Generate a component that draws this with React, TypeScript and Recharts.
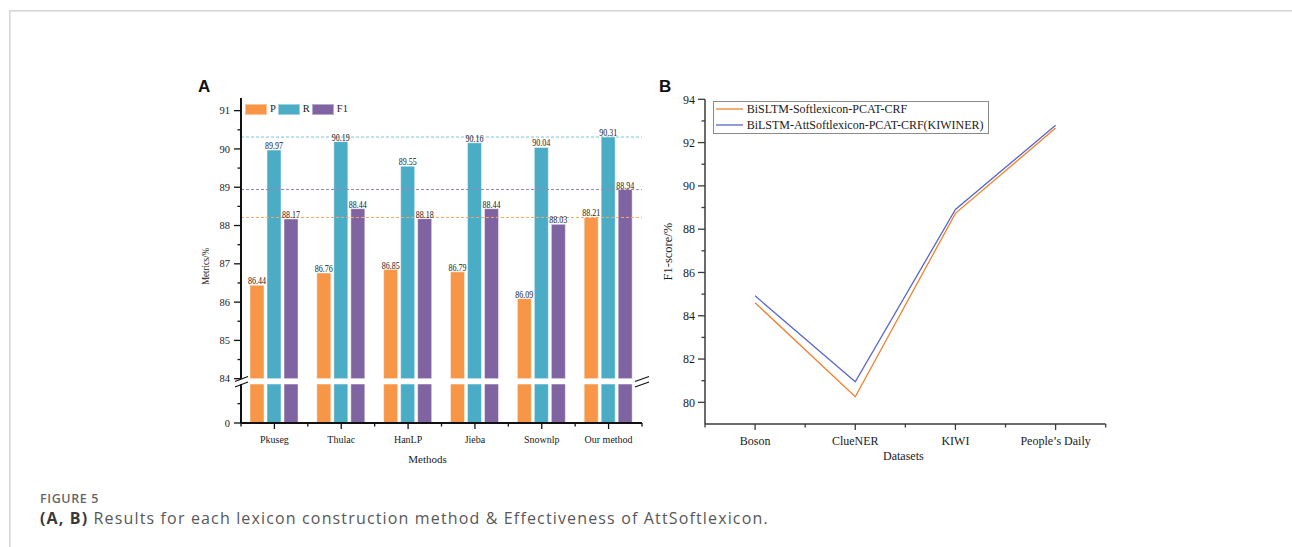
import React from 'react';
import { BarChart, Bar, XAxis, YAxis, ReferenceLine, LabelList, Legend, LineChart, Line, Label } from 'recharts';

const SERIF = "'Liberation Serif', 'Times New Roman', serif";
const SANS = "'Liberation Sans', Arial, sans-serif";
const CAPTION_FONT = "'Open Sans', 'Noto Sans', sans-serif";

// ---------- Panel A data ----------
const methods = ['Pkuseg', 'Thulac', 'HanLP', 'Jieba', 'Snownlp', 'Our method'];
const pValues = [86.44, 86.76, 86.85, 86.79, 86.09, 88.21];
const rValues = [89.97, 90.19, 89.55, 90.16, 90.04, 90.31];
const f1Values = [88.17, 88.44, 88.18, 88.44, 88.03, 88.94];
const upperMajorTicks = [84, 85, 86, 87, 88, 89, 90, 91];
const upperMinorTicks = [84.5, 85.5, 86.5, 87.5, 88.5, 89.5, 90.5];
const lowerMajorTicks = [0];
const lowerMinorTicks = [42];
const seriesA = [
  { key: 'P', color: '#F79646', refColor: '#F5A868' },
  { key: 'R', color: '#4BACC6', refColor: '#7CC4D8' },
  { key: 'F1', color: '#8064A2', refColor: '#9A86B6' },
];

// ---------- Panel B data ----------
const datasets = ['Boson', 'ClueNER', 'KIWI', 'People\u2019s Daily'];
const softValues = [84.6, 80.26, 88.73, 92.67];
const attValues = [84.92, 80.95, 88.91, 92.8];
const bMajorTicks = [80, 82, 84, 86, 88, 90, 92, 94];
const bMinorTicks = [81, 83, 85, 87, 89, 91, 93];
const seriesB = [
  { key: 'soft', name: 'BiSLTM-Softlexicon-PCAT-CRF', color: '#F0812F' },
  { key: 'att', name: 'BiLSTM-AttSoftlexicon-PCAT-CRF(KIWINER)', color: '#5867C8' },
];

const sortNum = (a: number[]) => [...a].sort((x, y) => x - y);

function makeYTick(majors: number[], majorLen: number, minorLen: number, margin: number, fontSize: number, color: string, sw: number) {
  return (props: any) => {
    const { x, y, payload } = props;
    const v = payload.value;
    const isMajor = majors.includes(v);
    const axisX = x + margin + majorLen;
    return (
      <g>
        <line x1={axisX - (isMajor ? majorLen : minorLen)} x2={axisX} y1={y} y2={y} stroke={color} strokeWidth={sw} />
        {isMajor && (
          <text x={x} y={y} dy="0.35em" textAnchor="end" fontSize={fontSize} fontFamily={SERIF} fill="#1a1a1a">
            {v}
          </text>
        )}
      </g>
    );
  };
}

function makeXTick(count: number, plotWidth: number, majorLen: number, minorLen: number, margin: number, fontSize: number, color: string, sw: number) {
  return (props: any) => {
    const { x, y, payload, index } = props;
    const axisY = y - margin - majorLen;
    const half = payload && payload.offset ? payload.offset : plotWidth / count / 2;
    const isLast = index === count - 1;
    return (
      <g>
        <line x1={x} x2={x} y1={axisY} y2={axisY + majorLen} stroke={color} strokeWidth={sw} />
        <line x1={x - half} x2={x - half} y1={axisY} y2={axisY + minorLen} stroke={color} strokeWidth={sw} />
        {isLast && <line x1={x + half} x2={x + half} y1={axisY} y2={axisY + minorLen} stroke={color} strokeWidth={sw} />}
        <text x={x} y={y} dy="0.71em" textAnchor="middle" fontSize={fontSize} fontFamily={SERIF} fill="#1a1a1a">
          {payload.value}
        </text>
      </g>
    );
  };
}

const ValueLabel = (props: any) => {
  const { x, y, width, value } = props;
  return (
    <text x={x + width / 2} y={y - 1} textAnchor="middle" fontSize={10} fontFamily={SERIF} fill="#1a1a1a"
      textLength={18} lengthAdjust="spacingAndGlyphs">
      {Number(value).toFixed(2)}
    </text>
  );
};

const LegendA = () => (
  <div style={{ display: 'flex', alignItems: 'center', fontFamily: SERIF, fontSize: 10.5, color: '#1a1a1a', lineHeight: '12px' }}>
    {seriesA.map((s) => (
      <div key={s.key} style={{ display: 'flex', alignItems: 'center', marginRight: 2 }}>
        <span style={{ display: 'inline-block', width: 22, height: 11, background: s.color, boxShadow: 'inset 0 0 0 1px rgba(255,255,255,0.45)' }} />
        <span style={{ marginLeft: 3 }}>{s.key}</span>
      </div>
    ))}
  </div>
);

const LegendB = () => (
  <div style={{ border: '1px solid #8a8a8a', padding: '0 4px 0 2px', background: '#fff', fontFamily: SERIF, fontSize: 12, color: '#1a1a1a' }}>
    {seriesB.map((s) => (
      <div key={s.key} style={{ display: 'flex', alignItems: 'center', height: 15.6 }}>
        <svg width={27} height={4} style={{ display: 'block' }}>
          <line x1={0} x2={27} y1={2} y2={2} stroke={s.color} strokeWidth={1.3} />
        </svg>
        <span style={{ marginLeft: 4, whiteSpace: 'nowrap' }}>{s.name}</span>
      </div>
    ))}
  </div>
);

const MetricsTitle = (props: any) => {
  const vb = props.viewBox || { x: 0, y: 0, width: 0, height: 0 };
  const cx = vb.x + vb.width / 2;
  const cy = vb.y + vb.height / 2 + 28;
  return (
    <text x={cx} y={cy} transform={`rotate(-90 ${cx} ${cy})`} textAnchor="middle" dy="0.35em" fontSize={11} fontFamily={SERIF} fill="#1a1a1a"
      textLength={37} lengthAdjust="spacingAndGlyphs">
      Metrics/%
    </text>
  );
};

const MethodsTitle = (props: any) => {
  const vb = props.viewBox || { x: 0, y: 0, width: 0, height: 0 };
  return (
    <text x={vb.x + vb.width / 2 - 14} y={vb.y + vb.height} textAnchor="middle" fontSize={11} fontFamily={SERIF} fill="#1a1a1a">
      Methods
    </text>
  );
};

const F1Title = (props: any) => {
  const vb = props.viewBox || { x: 0, y: 0, width: 0, height: 0 };
  const cx = vb.x + vb.width / 2;
  const cy = vb.y + vb.height / 2 - 10;
  return (
    <text x={cx} y={cy} transform={`rotate(-90 ${cx} ${cy})`} textAnchor="middle" dy="0.35em" fontSize={12.5} fontFamily={SERIF} fill="#1a1a1a">
      F1-score/%
    </text>
  );
};

const DatasetsTitle = (props: any) => {
  const vb = props.viewBox || { x: 0, y: 0, width: 0, height: 0 };
  return (
    <text x={vb.x + vb.width / 2 - 2} y={vb.y + vb.height} textAnchor="middle" fontSize={12} fontFamily={SERIF} fill="#1a1a1a">
      Datasets
    </text>
  );
};

const AX = '#111';
const BX = '#3a3a3a';

export default function App() {
  const barData = methods.map((m, i) => ({ method: m, P: pValues[i], R: rValues[i], F1: f1Values[i] }));
  const lineData = datasets.map((d, i) => ({ dataset: d, soft: softValues[i], att: attValues[i] }));
  const refValues = [Math.max(...pValues), Math.max(...rValues), Math.max(...f1Values)];

  const yTickUpper = makeYTick(upperMajorTicks, 7, 3.5, 4, 10.5, AX, 1.3);
  const yTickLower = makeYTick(lowerMajorTicks, 7, 3.5, 4, 10.5, AX, 1.3);
  const xTickA = makeXTick(methods.length, 401, 6, 3.5, 7, 10, AX, 1.3);
  const yTickB = makeYTick(bMajorTicks, 7, 3.5, 3, 12, BX, 1.3);
  const xTickB = makeXTick(datasets.length, 400.7, 6, 3.5, 6, 12, BX, 1.3);

  return (
    <div style={{ position: 'absolute', left: 0, top: 0, width: 1292, height: 547, background: '#fff', overflow: 'hidden' }}>
      <svg style={{ position: 'absolute', left: 0, top: 0 }} width={1292} height={547}>
        <rect x={9} y={10} width={1283} height={1.6} fill="#d6d6d6" />
        <rect x={9} y={10} width={1.6} height={537} fill="#d6d6d6" />
        <text x={198} y={92} fontFamily={SANS} fontWeight="bold" fontSize={17} fill="#111">A</text>
        <text x={659} y={92} fontFamily={SANS} fontWeight="bold" fontSize={17} fill="#111">B</text>
        <text x={40} y={503} fontFamily={CAPTION_FONT} fontWeight={600} fontSize={12.5} fill="#666" letterSpacing={0.6}>FIGURE 5</text>
        <text x={40} y={523.5} fontFamily={CAPTION_FONT} fontSize={16} fill="#585858" letterSpacing={1.15}>
          <tspan fontWeight={700} fill="#3a3a3a">(A, B)</tspan>
          <tspan> Results for each lexicon construction method &amp; Effectiveness of AttSoftlexicon.</tspan>
        </text>
      </svg>

      {/* Panel A upper (84 - 91) */}
      <div style={{ position: 'absolute', left: 150, top: 80 }}>
        <BarChart width={520} height={310} data={barData} margin={{ top: 18, right: 28, bottom: 11.3, left: 19 }} barSize={14} barGap={3}>
          <XAxis xAxisId="cat" orientation="top" dataKey="method" height={0} tick={false} tickLine={false} axisLine={{ stroke: AX, strokeWidth: 2 }} />
          <YAxis yAxisId="val" type="number" domain={[84, 91.33]} ticks={sortNum([...upperMajorTicks, ...upperMinorTicks])} allowDataOverflow
            width={72} tickSize={7} tickMargin={4} tickLine={false} interval={0} tick={yTickUpper} axisLine={{ stroke: AX, strokeWidth: 2 }}>
            <Label content={MetricsTitle} />
          </YAxis>
          <YAxis yAxisId="frame" orientation="right" width={0} tick={false} tickLine={false} axisLine={{ stroke: AX, strokeWidth: 2 }} />
          {seriesA.map((s, i) => (
            <ReferenceLine key={'ref' + s.key} xAxisId="cat" yAxisId="val" y={refValues[i]} stroke={s.refColor} strokeWidth={1} strokeDasharray="3 2" />
          ))}
          {seriesA.map((s) => (
            <Bar key={s.key} dataKey={s.key} xAxisId="cat" yAxisId="val" fill={s.color} stroke="#ffffff" strokeOpacity={0.45} strokeWidth={1} isAnimationActive={false}>
              <LabelList dataKey={s.key} content={ValueLabel} />
            </Bar>
          ))}
          <Legend content={LegendA} layout="vertical" align="center" verticalAlign="middle" wrapperStyle={{ left: 95, top: 23, width: 'auto', height: 'auto' }} />
        </BarChart>
      </div>

      {/* Panel A lower (0 - 84) */}
      <div style={{ position: 'absolute', left: 150, top: 370 }}>
        <BarChart width={520} height={110} data={barData} margin={{ top: 14.3, right: 28, bottom: 17, left: 19 }} barSize={14} barGap={3}>
          <XAxis xAxisId="cat" dataKey="method" height={40} tickSize={6} tickMargin={7} tickLine={false} interval={0} tick={xTickA} axisLine={{ stroke: AX, strokeWidth: 2 }}>
            <Label content={MethodsTitle} />
          </XAxis>
          <YAxis yAxisId="val" type="number" domain={[0, 84]} ticks={sortNum([...lowerMajorTicks, ...lowerMinorTicks])} allowDataOverflow
            width={72} tickSize={7} tickMargin={4} tickLine={false} interval={0} tick={yTickLower} axisLine={{ stroke: AX, strokeWidth: 2 }} />
          <YAxis yAxisId="frame" orientation="right" width={0} tick={false} tickLine={false} axisLine={{ stroke: AX, strokeWidth: 2 }} />
          {seriesA.map((s) => (
            <Bar key={s.key} dataKey={s.key} xAxisId="cat" yAxisId="val" fill={s.color} stroke="#ffffff" strokeOpacity={0.45} strokeWidth={1} isAnimationActive={false} />
          ))}
        </BarChart>
      </div>

      {/* Panel B */}
      <div style={{ position: 'absolute', left: 630, top: 80 }}>
        <LineChart width={500} height={400} data={lineData} margin={{ top: 19.3, right: 24.3, bottom: 20, left: 1 }}>
          <XAxis dataKey="dataset" scale="band" height={36} tickSize={6} tickMargin={6} tickLine={false} interval={0} tick={xTickB} axisLine={{ stroke: BX, strokeWidth: 1.5 }}>
            <Label content={DatasetsTitle} />
          </XAxis>
          <YAxis type="number" domain={[79, 94]} ticks={sortNum([...bMajorTicks, ...bMinorTicks])} allowDataOverflow width={74} tickSize={7} tickMargin={3}
            tickLine={false} interval={0} tick={yTickB} axisLine={{ stroke: BX, strokeWidth: 1.5 }}>
            <Label content={F1Title} />
          </YAxis>
          {seriesB.map((s) => (
            <Line key={s.key} type="linear" dataKey={s.key} name={s.name} stroke={s.color} strokeWidth={1.3} dot={false} activeDot={false} isAnimationActive={false} />
          ))}
          <Legend content={LegendB} layout="vertical" align="center" verticalAlign="middle" wrapperStyle={{ left: 82.7, top: 20.7, width: 'auto', height: 'auto' }} />
        </LineChart>
      </div>

      {/* axis break marks */}
      <svg style={{ position: 'absolute', left: 0, top: 0, pointerEvents: 'none' }} width={1292} height={547}>
        <line x1={235} y1={381.5} x2={248} y2={376.5} stroke={AX} strokeWidth={1.3} />
        <line x1={235} y1={387} x2={248} y2={382} stroke={AX} strokeWidth={1.3} />
        <line x1={635} y1={381.5} x2={649} y2={376.5} stroke={AX} strokeWidth={1.3} />
        <line x1={635} y1={387} x2={649} y2={382} stroke={AX} strokeWidth={1.3} />
      </svg>
    </div>
  );
}
